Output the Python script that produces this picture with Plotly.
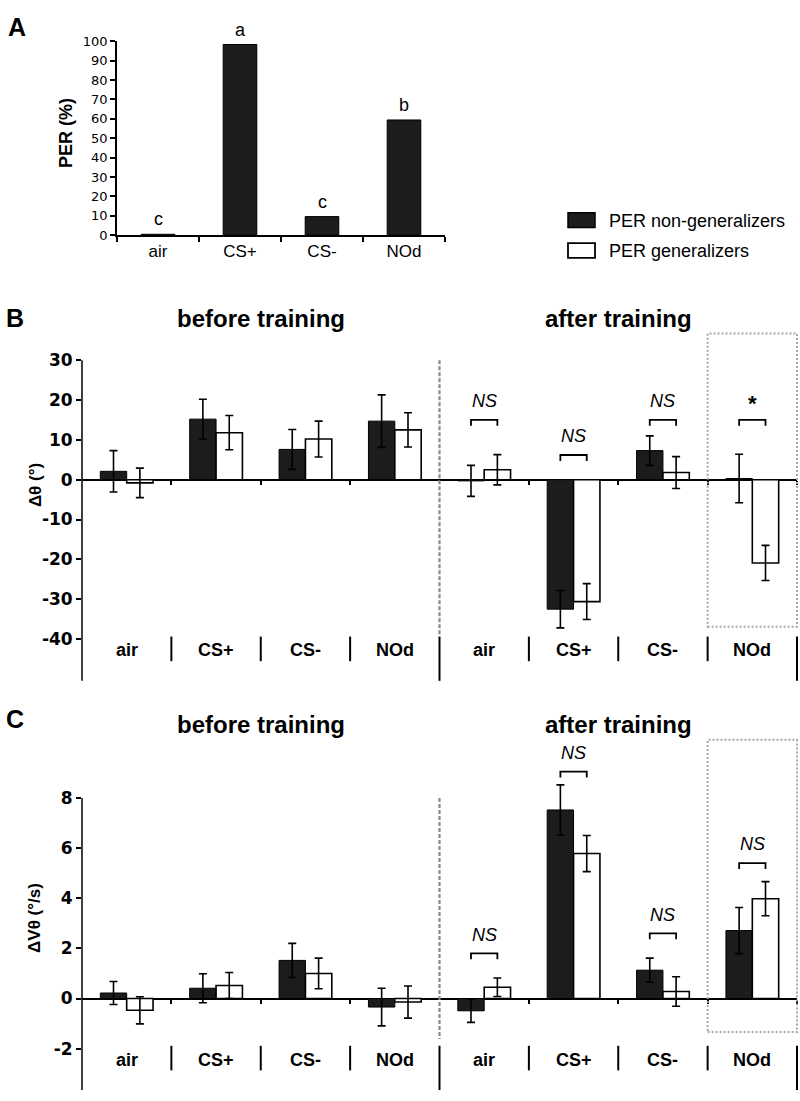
import plotly.graph_objects as go

W, H = 800, 1101

# ---------------- DATA ----------------
odors = ["air", "CS+", "CS-", "NOd"]
phases = ["before training", "after training"]
series_names = ["PER non-generalizers", "PER generalizers"]

# Panel A
per_pct = [0.5, 98.3, 9.6, 59.4]
per_letters = ["c", "a", "c", "b"]
per_ticks = [0, 10, 20, 30, 40, 50, 60, 70, 80, 90, 100]

# Panel B  (delta theta, degrees)
theta_nongen_before = [2.1, 15.2, 7.6, 14.7]
theta_nongen_before_err = [5.2, 5.0, 5.0, 6.6]
theta_gen_before = [-0.8, 11.8, 10.2, 12.5]
theta_gen_before_err = [3.7, 4.3, 4.5, 4.3]
theta_nongen_after = [-0.3, -32.5, 7.3, 0.3]
theta_nongen_after_err = [3.9, 4.7, 3.7, 6.1]
theta_gen_after = [2.5, -30.6, 1.8, -20.9]
theta_gen_after_err = [3.8, 4.5, 4.0, 4.4]
theta_sig_labels = ["NS", "NS", "NS", "*"]
theta_sig_levels = [15, 6.2, 15, 15]
theta_ticks = [-40, -30, -20, -10, 0, 10, 20, 30]

# Panel C  (delta V theta, deg/s)
vth_nongen_before = [0.22, 0.41, 1.52, -0.34]
vth_nongen_before_err = [0.46, 0.58, 0.68, 0.75]
vth_gen_before = [-0.47, 0.52, 1.0, -0.14]
vth_gen_before_err = [0.54, 0.52, 0.61, 0.64]
vth_nongen_after = [-0.49, 7.52, 1.13, 2.71]
vth_nongen_after_err = [0.46, 1.0, 0.48, 0.92]
vth_gen_after = [0.45, 5.78, 0.28, 3.98]
vth_gen_after_err = [0.37, 0.72, 0.59, 0.68]
vth_sig_labels = ["NS", "NS", "NS", "NS"]
vth_sig_levels = [1.8, 9.05, 2.6, 5.4]
vth_ticks = [-2, 0, 2, 4, 6, 8]

# ---------------- GEOMETRY (pixels) ----------------
A_XPX = (117, 445)
A_YPX = (229, 31.7)
A_RANGE = (0, 100)
BC_XPX = (82, 797)
N_CAT = len(phases) * len(odors)
B_YPX = (682, 356)
B_RANGE = (-50.5, 30)
# panel C: value 8 sits at y=801 px, -3.65 at 1098 px; the plotting area is
# extended upward (axis line drawn only up to the top tick) so error bars are not clipped
C_PX_PER_UNIT = (1098 - 801) / (8 - (-3.65))
C_TOP_VAL = 9.6
C_YPX = (1098, 801 - (C_TOP_VAL - 8) * C_PX_PER_UNIT)
C_RANGE = (-3.65, C_TOP_VAL)

BLACK_FILL = "#1c1c1c"
BAR_W = 0.295
FONT = "Liberation Sans, Arial, sans-serif"
TICKFONT_BOLD = dict(family="DejaVu Sans, sans-serif", size=17, color="black", weight="bold")


def dom_x(px):
    return [px[0] / W, px[1] / W]


def dom_y(py):
    return [1 - py[0] / H, 1 - py[1] / H]


def xpx(v):
    return BC_XPX[0] + v / N_CAT * (BC_XPX[1] - BC_XPX[0])


def ypx(v, ypix, rng):
    return ypix[0] - (v - rng[0]) / (rng[1] - rng[0]) * (ypix[0] - ypix[1])


def px_x(p):
    return p / W


def px_y(p):
    return 1 - p / H


def hyphen_labels(vals):
    return [str(v) for v in vals]


positions = [k + 0.5 for k in range(N_CAT)]

fig = go.Figure()

# ---- Panel A bars ----
fig.add_trace(go.Bar(x=odors, y=per_pct, width=0.41, marker=dict(color=BLACK_FILL, line=dict(color="black", width=1)),
                     xaxis="x", yaxis="y", showlegend=False, name="PER"))

# ---- Panels B & C bars ----
panels = [
    ("x2", "y2",
     theta_nongen_before + theta_nongen_after, theta_nongen_before_err + theta_nongen_after_err,
     theta_gen_before + theta_gen_after, theta_gen_before_err + theta_gen_after_err),
    ("x3", "y3",
     vth_nongen_before + vth_nongen_after, vth_nongen_before_err + vth_nongen_after_err,
     vth_gen_before + vth_gen_after, vth_gen_before_err + vth_gen_after_err),
]
for xa, ya, nv, ne, gv, ge in panels:
    fig.add_trace(go.Bar(x=positions, y=nv, width=BAR_W, offset=-BAR_W, name=series_names[0],
                         marker=dict(color=BLACK_FILL, line=dict(color="black", width=1)),
                         error_y=dict(type="data", array=ne, visible=True, color="black", thickness=1.6, width=4),
                         xaxis=xa, yaxis=ya, showlegend=False))
    fig.add_trace(go.Bar(x=positions, y=gv, width=BAR_W, offset=0, name=series_names[1],
                         marker=dict(color="white", line=dict(color="black", width=1.6)),
                         error_y=dict(type="data", array=ge, visible=True, color="black", thickness=1.6, width=4),
                         xaxis=xa, yaxis=ya, showlegend=False))

shapes = []
annotations = []


def add_text(text, x, y, size, bold=False, italic=False, angle=0, family=FONT, xanchor="center", yanchor="middle"):
    f = dict(family=family, size=size, color="black")
    if bold:
        f["weight"] = "bold"
    if italic:
        f["style"] = "italic"
    annotations.append(dict(text=text, x=px_x(x), y=px_y(y), xref="paper", yref="paper", showarrow=False,
                            font=f, textangle=angle, xanchor=xanchor, yanchor=yanchor))


def add_line(x0, y0, x1, y1, color="black", width=2, dash="solid"):
    shapes.append(dict(type="line", xref="paper", yref="paper", x0=px_x(x0), y0=px_y(y0), x1=px_x(x1), y1=px_y(y1),
                       line=dict(color=color, width=width, dash=dash)))


# ---- Panel A annotations ----
add_text("A", 17, 17, 25, bold=True)
add_text("PER (%)", 66, 125, 18, bold=True, angle=-90)
cat_w_A = (A_XPX[1] - A_XPX[0]) / len(odors)
for i, (v, letter) in enumerate(zip(per_pct, per_letters)):
    cx = A_XPX[0] + (i + 0.5) * cat_w_A
    top = ypx(v, A_YPX, A_RANGE)
    add_text(letter, cx, top - 3, 18, yanchor="bottom")

# ---- Legend (drawn) ----
shapes.append(dict(type="rect", xref="paper", yref="paper", x0=px_x(568), x1=px_x(595), y0=px_y(221), y1=px_y(206),
                   fillcolor=BLACK_FILL, line=dict(color="black", width=1.5)))
shapes.append(dict(type="rect", xref="paper", yref="paper", x0=px_x(568), x1=px_x(595), y0=px_y(252), y1=px_y(237),
                   fillcolor="white", line=dict(color="black", width=1.8)))
add_text(series_names[0], 607, 214, 18, xanchor="left")
add_text(series_names[1], 607, 245, 18, xanchor="left")

# ---- Panels B & C decorations ----
panel_defs = [
    ("B", "Δθ (°)", B_YPX, B_RANGE, theta_ticks, 313, 314, 483, 637, 651, 662, 329, 627, theta_sig_labels, theta_sig_levels),
    ("C", "ΔVθ (°/s)", C_YPX, C_RANGE, vth_ticks, 721, 726, 923, 1046, 1067, 1078, 742, 1039, vth_sig_labels, vth_sig_levels),
]
for (lab, ytitle, ypix, rng, ticks, lab_y, title_y, ytitle_y, dash_end, row_y, sep_end, box_top, box_bot,
     sig_labels, sig_levels) in panel_defs:
    add_text(lab, 15, lab_y, 25, bold=True)
    add_text(ytitle, 35, ytitle_y, 17, bold=True, angle=-90)
    # y axis line from the bottom of the axis to the top tick
    add_line(BC_XPX[0], ypix[0], BC_XPX[0], ypx(ticks[-1], ypix, rng), width=1.5)
    for p, ph in enumerate(phases):
        cx = xpx(p * len(odors) + len(odors) / 2)
        add_text(ph, cx, title_y, 24, bold=True)
    # category row
    for k in range(N_CAT):
        add_text(odors[k % len(odors)], xpx(k + 0.5), row_y, 18, bold=True)
    row_top = row_y - 14
    for k in range(1, N_CAT + 1):
        if k % len(odors) == 0:
            add_line(xpx(k), row_top, xpx(k), ypix[0], width=2)
        else:
            add_line(xpx(k), row_top, xpx(k), sep_end, width=2)
    # dashed separator between phases
    add_line(xpx(len(odors)), ypx(ticks[-1], ypix, rng), xpx(len(odors)), dash_end,
             color="#8a8a8a", width=2.2, dash="4px,2px")
    # dotted box around after-training NOd
    shapes.append(dict(type="rect", xref="paper", yref="paper", x0=px_x(xpx(N_CAT - 1)), x1=px_x(xpx(N_CAT)),
                       y0=px_y(box_bot), y1=px_y(box_top), line=dict(color="#a8a8a8", width=2, dash="2px,2px")))
    # significance brackets (after training)
    for j, (s, lev) in enumerate(zip(sig_labels, sig_levels)):
        k = len(odors) + j
        xl = xpx(k + 0.5 - BAR_W / 2)
        xr = xpx(k + 0.5 + BAR_W / 2)
        yb = ypx(lev, ypix, rng)
        shapes.append(dict(type="path", xref="paper", yref="paper",
                           path=f"M {px_x(xl)} {px_y(yb + 6)} L {px_x(xl)} {px_y(yb)} L {px_x(xr)} {px_y(yb)} L {px_x(xr)} {px_y(yb + 6)}",
                           line=dict(color="black", width=1.8)))
        if s == "*":
            add_text(s, (xl + xr) / 2, yb - 17, 22, bold=True)
        else:
            add_text(s, (xl + xr) / 2, yb - 19, 18, italic=True)

axis_common = dict(showgrid=False, ticks="outside", tickcolor="black", tickwidth=1.5, linecolor="black",
                   linewidth=1.5, fixedrange=True)

fig.update_layout(
    width=W, height=H, margin=dict(l=0, r=0, t=0, b=0),
    paper_bgcolor="white", plot_bgcolor="rgba(0,0,0,0)",
    barmode="overlay", showlegend=False,
    font=dict(family=FONT, color="black"),
    xaxis=dict(domain=dom_x(A_XPX), anchor="y", type="category", tickson="boundaries", ticklen=5,
               showline=True, zeroline=False, tickfont=dict(family=FONT, size=17, color="black"), **axis_common),
    yaxis=dict(domain=dom_y(A_YPX), anchor="x", range=list(A_RANGE), tickmode="array", tickvals=per_ticks,
               ticktext=hyphen_labels(per_ticks), ticklen=5, showline=True, zeroline=False,
               tickfont=dict(family="DejaVu Sans, sans-serif", size=13, color="black"), **axis_common),
    xaxis2=dict(domain=dom_x(BC_XPX), anchor="free", position=px_y(ypx(0, B_YPX, B_RANGE)), range=[0, N_CAT],
                tickmode="array", tickvals=[1, 2, 3, 5, 6, 7, 8], ticklen=4, showticklabels=False,
                showline=False, zeroline=False, **axis_common),
    yaxis2=dict(domain=dom_y(B_YPX), anchor="x2", range=list(B_RANGE), tickmode="array", tickvals=theta_ticks,
                ticktext=hyphen_labels(theta_ticks), ticklen=5, showline=False, zeroline=True,
                zerolinecolor="black", zerolinewidth=1.8, tickfont=TICKFONT_BOLD, **axis_common),
    xaxis3=dict(domain=dom_x(BC_XPX), anchor="free", position=px_y(ypx(0, C_YPX, C_RANGE)), range=[0, N_CAT],
                tickmode="array", tickvals=[1, 2, 3, 5, 6, 7, 8], ticklen=4, showticklabels=False,
                showline=False, zeroline=False, **axis_common),
    yaxis3=dict(domain=dom_y(C_YPX), anchor="x3", range=list(C_RANGE), tickmode="array", tickvals=vth_ticks,
                ticktext=hyphen_labels(vth_ticks), ticklen=5, showline=False, zeroline=True,
                zerolinecolor="black", zerolinewidth=1.8, tickfont=TICKFONT_BOLD, **axis_common),
    shapes=shapes,
    annotations=annotations,
)

fig.write_html("out.html", config={"displayModeBar": False},
               post_script="document.body.style.margin='0';document.body.style.overflow='hidden';")
